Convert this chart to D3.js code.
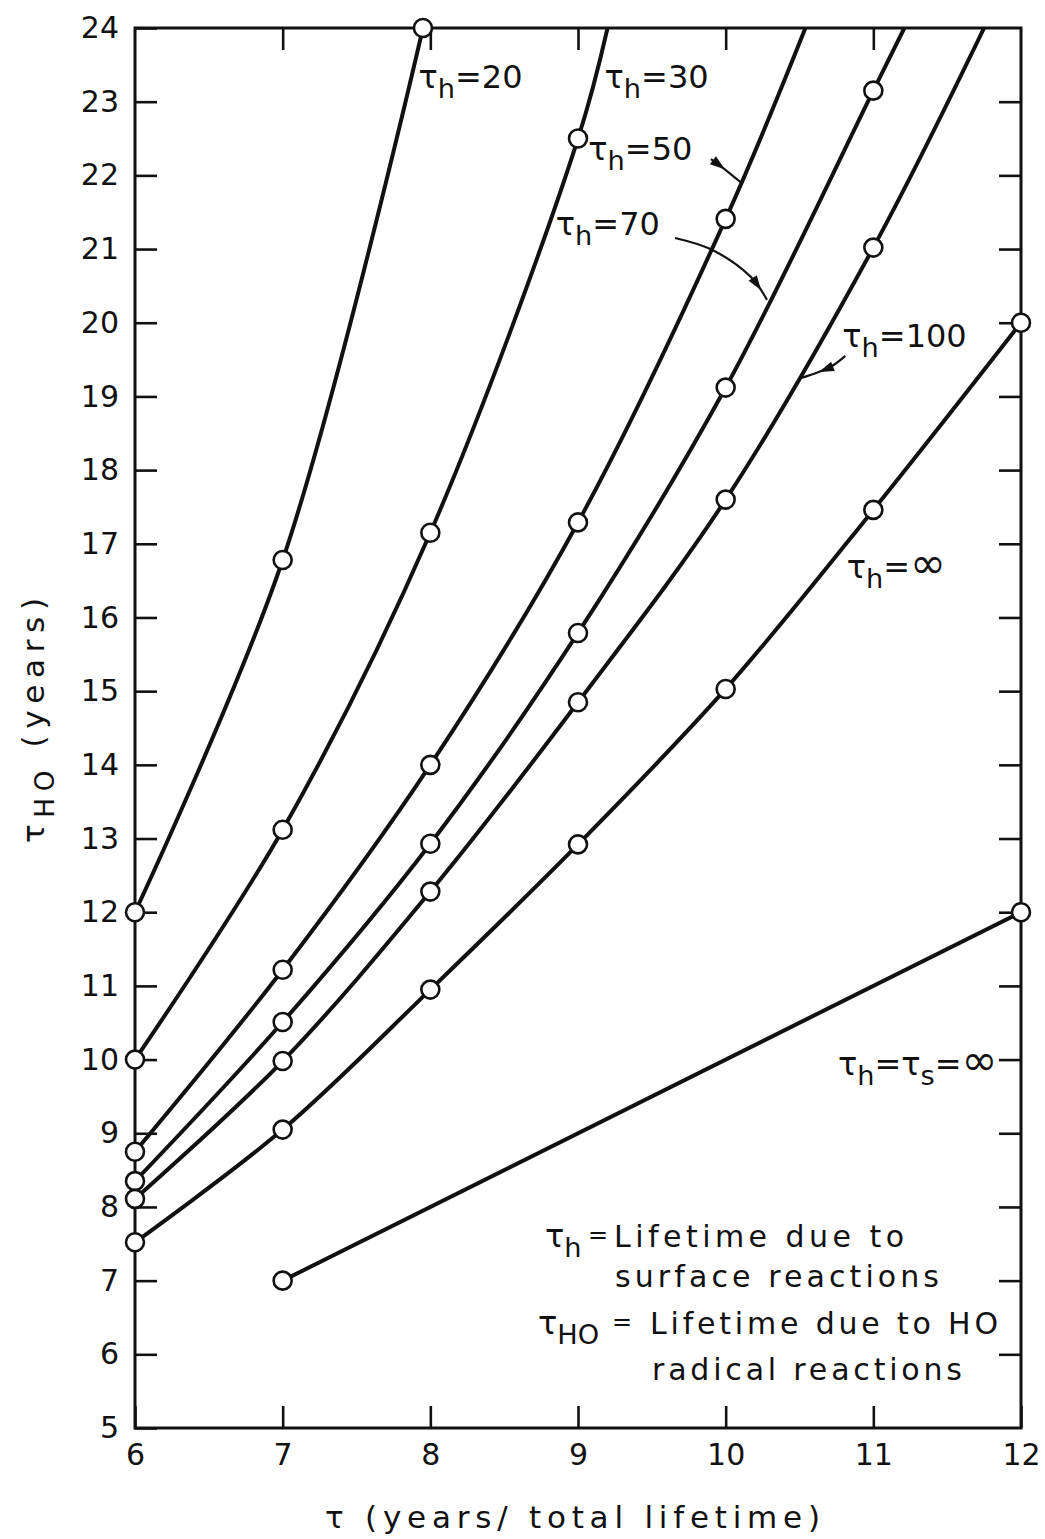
<!DOCTYPE html>
<html>
<head>
<meta charset="utf-8">
<script src="https://cdn.jsdelivr.net/npm/d3@7"></script>
<style>
  html, body { margin: 0; padding: 0; background: #fff; }
  svg { display: block; }
  text { font-family: "DejaVu Sans", "Noto Sans", sans-serif; fill: #111; }
</style>
</head>
<body>
<div id="chart"></div>
<script>
// ---- data: lifetime due to HO radical reactions vs. total lifetime ----
const seriesNames = ["20", "30", "50", "70", "100", "inf", "inf-inf"];

// measured points [tau, tauHO] for each surface-reaction lifetime
const th20   = [[6, 12.0], [7, 16.78], [7.95, 24.0]];
const th30   = [[6, 10.0], [7, 13.12], [8, 17.15], [9, 22.5]];
const th50   = [[6, 8.75], [7, 11.22], [8, 14.0], [9, 17.29], [10, 21.41]];
const th70   = [[6, 8.35], [7, 10.51], [8, 12.93], [9, 15.79], [10, 19.12], [11, 23.15]];
const th100  = [[6, 8.11], [7, 9.98], [8, 12.28], [9, 14.85], [10, 17.6], [11, 21.02]];
const thInf  = [[6, 7.52], [7, 9.05], [8, 10.95], [9, 12.92], [10, 15.03], [11, 17.46], [12, 20.0]];
const thsInf = [[7, 7.0], [12, 12.0]];

// where each curve runs off the top of the frame (tau value at tauHO = 24)
const topExit = [null, 9.2, 10.54, 11.21, 11.75, null, null];

const xTicks = [6, 7, 8, 9, 10, 11, 12];
const yTicks = d3.range(5, 25);

const allSeries = [th20, th30, th50, th70, th100, thInf, thsInf];

// ---- layout ----
const W = 1045, H = 1539;
const x = d3.scaleLinear().domain([6, 12]).range([135, 1021]);
const y = d3.scaleLinear().domain([5, 24]).range([1428, 28]);

const svg = d3.select("#chart").append("svg")
  .attr("width", W).attr("height", H);

svg.append("defs").append("clipPath").attr("id", "plotClip")
  .append("rect")
  .attr("x", x(6)).attr("y", y(24))
  .attr("width", x(12) - x(6)).attr("height", y(5) - y(24));

// axes with inward ticks on all four sides
const TICK = 22;
const axLeft = svg.append("g").attr("transform", `translate(${x(6)},0)`)
  .call(d3.axisLeft(y).tickValues(yTicks).tickSize(-TICK).tickPadding(16).tickFormat(d3.format("d")));
const axRight = svg.append("g").attr("transform", `translate(${x(12)},0)`)
  .call(d3.axisRight(y).tickValues(yTicks.slice(1, -1)).tickSize(-TICK).tickFormat(""));
const axBottom = svg.append("g").attr("transform", `translate(0,${y(5)})`)
  .call(d3.axisBottom(x).tickValues(xTicks).tickSize(-TICK).tickPadding(16).tickFormat(d3.format("d")));
const axTop = svg.append("g").attr("transform", `translate(0,${y(24)})`)
  .call(d3.axisTop(x).tickValues(xTicks.slice(1, -1)).tickSize(-TICK).tickFormat(""));

[axLeft, axRight, axBottom, axTop].forEach(g => {
  g.select(".domain").remove();
  g.selectAll(".tick line").attr("stroke", "#111").attr("stroke-width", 2.6);
  g.selectAll(".tick text").attr("font-size", 30).attr("fill", "#111");
});

// frame
svg.append("rect")
  .attr("x", x(6)).attr("y", y(24))
  .attr("width", x(12) - x(6)).attr("height", y(5) - y(24))
  .attr("fill", "none").attr("stroke", "#111").attr("stroke-width", 3);

// curves
const line = d3.line()
  .x(d => x(d[0])).y(d => y(d[1]))
  .curve(d3.curveCatmullRom.alpha(0.5));

const curves = svg.append("g").attr("clip-path", "url(#plotClip)");
allSeries.forEach((pts, i) => {
  const path = topExit[i] != null ? pts.concat([[topExit[i], 24]]) : pts;
  curves.append("path")
    .attr("d", line(path))
    .attr("fill", "none").attr("stroke", "#111")
    .attr("stroke-width", 4).attr("stroke-linejoin", "round");
});

// open circle markers
const markers = svg.append("g");
allSeries.forEach(pts => {
  markers.selectAll(null).data(pts).enter().append("circle")
    .attr("cx", d => x(d[0])).attr("cy", d => y(d[1]))
    .attr("r", 9)
    .attr("fill", "#fff").attr("stroke", "#111").attr("stroke-width", 2.6);
});

// text with subscripts: pieces are plain strings, {sub: "..."} or {large: "..."}
function rich(g, px, py, pieces, size, extra) {
  const t = g.append("text").attr("x", px).attr("y", py).attr("font-size", size);
  if (extra) extra(t);
  let lowered = false;
  pieces.forEach(p => {
    const s = t.append("tspan");
    if (typeof p === "string") {
      s.text(p);
    } else if (p.large !== undefined) {
      s.text(p.large).attr("font-size", size * 1.35);
    } else {
      s.text(p.sub).attr("font-size", size * 0.85).attr("dy", size * 0.32);
      lowered = true;
      return;
    }
    if (lowered) { s.attr("dy", -size * 0.32); lowered = false; }
  });
  return t;
}

// curve labels (positions in data units)
const labels = svg.append("g");
const curveLabels = [
  [7.92, 23.19, ["τ", {sub: "h"}, "=20"]],
  [9.18, 23.19, ["τ", {sub: "h"}, "=30"]],
  [9.07, 22.21, ["τ", {sub: "h"}, "=50"]],
  [8.85, 21.19, ["τ", {sub: "h"}, "=70"]],
  [10.79, 19.67, ["τ", {sub: "h"}, "=100"]],
  [10.82, 16.54, ["τ", {sub: "h"}, "=", {large: "∞"}]],
  [10.76, 9.79, ["τ", {sub: "h"}, "=", "τ", {sub: "s"}, "=", {large: "∞"}]]
];
curveLabels.forEach(([lx, ly, pieces]) => rich(labels, x(lx), y(ly), pieces, 32));

// leader arrows from labels to curves
const arrows = [
  [[9.90, 22.22], [9.97, 22.12], [10.10, 21.91]],
  [[9.657, 21.15], [9.907, 20.99], [10.171, 20.62], [10.28, 20.31]],
  [[10.81, 19.55], [10.71, 19.40], [10.51, 19.25]]
];
const arrowHeadAt = [0.3, 0.85, 0.5];
const arrowLine = d3.line().x(d => x(d[0])).y(d => y(d[1])).curve(d3.curveCatmullRom.alpha(0.5));
arrows.forEach((pts, i) => {
  const p = svg.append("path").attr("d", arrowLine(pts))
    .attr("fill", "none").attr("stroke", "#111").attr("stroke-width", 2.2);
  const node = p.node();
  const L = node.getTotalLength();
  const a = node.getPointAtLength(L * arrowHeadAt[i]);
  const b = node.getPointAtLength(Math.min(L, L * arrowHeadAt[i] + 4));
  const ang = Math.atan2(b.y - a.y, b.x - a.x) * 180 / Math.PI;
  svg.append("path")
    .attr("d", "M6,0 L-9,-5 L-9,5 Z")
    .attr("transform", `translate(${a.x},${a.y}) rotate(${ang})`)
    .attr("fill", "#111");
});

// definitions box
const legend = svg.append("g");
rich(legend, 545, 1247, ["τ", {sub: "h"}], 32);
legend.append("text").attr("x", 588).attr("y", 1243).attr("font-size", 24).text("=");
legend.append("text").attr("x", 614).attr("y", 1247).attr("font-size", 30)
  .attr("textLength", 290).attr("lengthAdjust", "spacing").text("Lifetime due to");
legend.append("text").attr("x", 615).attr("y", 1287).attr("font-size", 30)
  .attr("textLength", 324).attr("lengthAdjust", "spacing").text("surface reactions");
rich(legend, 538, 1334, ["τ", {sub: "HO"}], 32);
legend.append("text").attr("x", 612).attr("y", 1330).attr("font-size", 24).text("=");
legend.append("text").attr("x", 650).attr("y", 1334).attr("font-size", 30)
  .attr("textLength", 348).attr("lengthAdjust", "spacing").text("Lifetime due to HO");
legend.append("text").attr("x", 652).attr("y", 1380).attr("font-size", 30)
  .attr("textLength", 310).attr("lengthAdjust", "spacing").text("radical reactions");

// axis titles
svg.append("text").attr("x", 325).attr("y", 1528).attr("font-size", 31)
  .attr("textLength", 495).attr("lengthAdjust", "spacing")
  .text("τ  (years/ total lifetime)");

rich(svg, 0, 0, ["τ", {sub: "HO"}, "  (years)"], 31, t => t
  .attr("transform", "translate(44,843) rotate(-90)")
  .attr("textLength", 245).attr("lengthAdjust", "spacing"));
</script>
</body>
</html>
